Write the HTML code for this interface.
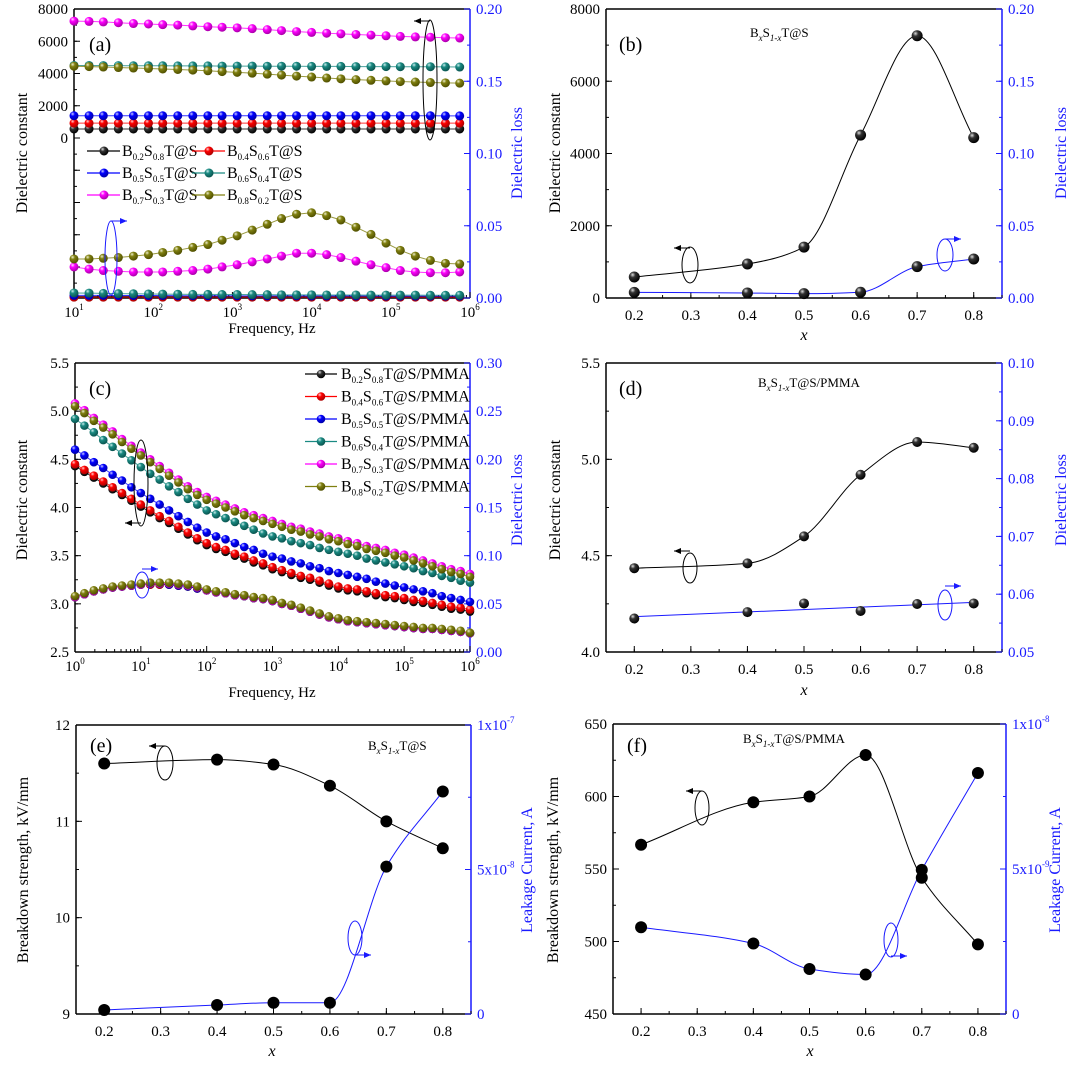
<!DOCTYPE html>
<html><head><meta charset="utf-8">
<style>
html,body{margin:0;padding:0;background:#fff;}
svg{display:block;font-family:"Liberation Serif",serif;}
text{font-family:"Liberation Serif","Times New Roman",serif;}
</style></head>
<body>
<svg id="fig" width="1080" height="1068" viewBox="0 0 1080 1068" xmlns="http://www.w3.org/2000/svg">
<defs>
<radialGradient id="g-black" cx="35%" cy="30%" r="70%"><stop offset="0" stop-color="#ddd"/><stop offset="0.35" stop-color="#333"/><stop offset="1" stop-color="#000"/></radialGradient>
<radialGradient id="g-red" cx="35%" cy="30%" r="70%"><stop offset="0" stop-color="#fcc"/><stop offset="0.35" stop-color="#f00"/><stop offset="1" stop-color="#a00"/></radialGradient>
<radialGradient id="g-blue" cx="35%" cy="30%" r="70%"><stop offset="0" stop-color="#ccf"/><stop offset="0.35" stop-color="#00f"/><stop offset="1" stop-color="#00a"/></radialGradient>
<radialGradient id="g-teal" cx="35%" cy="30%" r="70%"><stop offset="0" stop-color="#cee"/><stop offset="0.35" stop-color="#1a8a82"/><stop offset="1" stop-color="#0a5550"/></radialGradient>
<radialGradient id="g-mag" cx="35%" cy="30%" r="70%"><stop offset="0" stop-color="#fdf"/><stop offset="0.35" stop-color="#f0f"/><stop offset="1" stop-color="#a0a"/></radialGradient>
<radialGradient id="g-olive" cx="35%" cy="30%" r="70%"><stop offset="0" stop-color="#eec"/><stop offset="0.35" stop-color="#808010"/><stop offset="1" stop-color="#505000"/></radialGradient>
</defs>
</svg>
<script>
// ---------- data ----------
const logFA = [1.00,1.19,1.37,1.56,1.75,1.94,2.12,2.31,2.50,2.69,2.87,3.06,3.25,3.44,3.62,3.81,4.00,4.19,4.37,4.56,4.75,4.94,5.12,5.31,5.50,5.69,5.87];
const epsA02 = [560,560,560,560,560,560,560,560,560,560,560,560,560,560,560,560,560,560,560,560,560,560,560,560,560,560,560];
const epsA04 = [920,920,920,920,920,920,920,920,920,920,920,920,920,920,920,920,920,920,920,920,920,920,920,920,920,920,920];
const epsA05 = [1380,1380,1380,1380,1380,1380,1380,1380,1380,1380,1380,1380,1380,1380,1380,1380,1380,1380,1380,1380,1380,1380,1380,1380,1380,1370,1370];
const epsA06 = [4500,4500,4490,4490,4480,4480,4480,4470,4470,4470,4460,4460,4460,4450,4450,4450,4440,4440,4440,4430,4430,4430,4420,4420,4420,4410,4400];
const epsA07 = [7250,7230,7200,7150,7100,7070,7030,7000,6950,6900,6870,6830,6780,6720,6660,6600,6550,6500,6460,6420,6380,6340,6300,6270,6250,6220,6200];
const epsA08 = [4450,4430,4400,4370,4340,4310,4280,4250,4210,4170,4120,4070,4020,3960,3900,3840,3780,3720,3670,3620,3580,3540,3500,3470,3440,3420,3400];
const lossA02 = [0.001,0.001,0.001,0.001,0.001,0.001,0.001,0.001,0.001,0.001,0.001,0.001,0.001,0.001,0.001,0.001,0.001,0.001,0.001,0.001,0.001,0.001,0.001,0.001,0.001,0.001,0.001];
const lossA04 = [0.0006,0.0006,0.0006,0.0006,0.0006,0.0006,0.0006,0.0006,0.0006,0.0006,0.0006,0.0006,0.0006,0.0006,0.0006,0.0006,0.0006,0.0006,0.0006,0.0006,0.0006,0.0006,0.0006,0.0006,0.0006,0.0006,0.0006];
const lossA05 = [0.0018,0.0018,0.0018,0.0017,0.0017,0.0017,0.0017,0.0016,0.0016,0.0016,0.0016,0.0015,0.0015,0.0015,0.0015,0.0015,0.0014,0.0014,0.0014,0.0014,0.0014,0.0013,0.0013,0.0013,0.0013,0.0013,0.0013];
const lossA06 = [0.0035,0.0034,0.0032,0.0030,0.0029,0.0028,0.0027,0.0026,0.0025,0.0025,0.0024,0.0024,0.0023,0.0023,0.0022,0.0022,0.0022,0.0021,0.0021,0.0021,0.0020,0.0020,0.0020,0.0020,0.0019,0.0019,0.0019];
const lossA07 = [0.0215,0.020,0.019,0.0185,0.018,0.018,0.018,0.0185,0.019,0.020,0.0215,0.023,0.025,0.027,0.029,0.031,0.031,0.030,0.028,0.0255,0.023,0.021,0.019,0.018,0.0175,0.0175,0.018];
const lossA08 = [0.027,0.027,0.0275,0.028,0.029,0.030,0.0315,0.033,0.035,0.037,0.040,0.043,0.047,0.051,0.055,0.058,0.059,0.057,0.054,0.049,0.044,0.038,0.033,0.029,0.026,0.024,0.0235];

const logFC = [0,0.143,0.286,0.429,0.571,0.714,0.857,1,1.143,1.286,1.429,1.571,1.714,1.857,2,2.143,2.286,2.429,2.571,2.714,2.857,3,3.143,3.286,3.429,3.571,3.714,3.857,4,4.143,4.286,4.429,4.571,4.714,4.857,5,5.143,5.286,5.429,5.571,5.714,5.857,6];
const epsC02 = [4.43,4.37,4.31,4.25,4.19,4.13,4.07,4.01,3.95,3.89,3.84,3.78,3.72,3.66,3.61,3.57,3.54,3.50,3.47,3.43,3.40,3.36,3.33,3.30,3.27,3.25,3.22,3.19,3.16,3.14,3.13,3.11,3.09,3.07,3.06,3.04,3.02,3.01,2.99,2.97,2.95,2.94,2.92];
const epsC04 = [4.45,4.39,4.33,4.27,4.21,4.15,4.09,4.03,3.97,3.91,3.86,3.80,3.74,3.68,3.63,3.59,3.56,3.52,3.49,3.45,3.42,3.38,3.35,3.32,3.29,3.27,3.24,3.21,3.18,3.16,3.15,3.13,3.11,3.09,3.08,3.06,3.04,3.03,3.01,2.99,2.97,2.96,2.94];
const epsC05 = [4.60,4.54,4.47,4.41,4.34,4.28,4.21,4.15,4.09,4.03,3.97,3.91,3.85,3.79,3.74,3.70,3.67,3.63,3.59,3.56,3.52,3.49,3.47,3.44,3.42,3.39,3.37,3.34,3.32,3.30,3.28,3.26,3.23,3.21,3.19,3.17,3.15,3.13,3.11,3.08,3.06,3.04,3.02];
const epsC06 = [4.92,4.85,4.78,4.70,4.63,4.56,4.49,4.42,4.35,4.29,4.22,4.16,4.09,4.03,3.97,3.93,3.89,3.85,3.81,3.77,3.73,3.70,3.68,3.65,3.63,3.61,3.58,3.56,3.54,3.52,3.50,3.47,3.45,3.43,3.41,3.39,3.37,3.34,3.32,3.29,3.27,3.24,3.22];
const epsC07 = [5.08,5.01,4.93,4.86,4.79,4.71,4.64,4.57,4.50,4.43,4.36,4.29,4.22,4.16,4.11,4.07,4.03,3.99,3.95,3.92,3.89,3.86,3.83,3.80,3.78,3.75,3.73,3.70,3.68,3.65,3.63,3.60,3.58,3.56,3.53,3.51,3.48,3.45,3.42,3.39,3.36,3.34,3.31];
const epsC08 = [5.05,4.98,4.90,4.83,4.76,4.68,4.61,4.54,4.47,4.40,4.33,4.26,4.19,4.13,4.08,4.04,4.00,3.96,3.92,3.89,3.86,3.83,3.80,3.77,3.75,3.72,3.70,3.67,3.65,3.62,3.60,3.57,3.55,3.53,3.50,3.48,3.45,3.42,3.39,3.36,3.33,3.31,3.28];
const lossC02 = [0.057,0.060,0.063,0.065,0.067,0.068,0.069,0.070,0.070,0.070,0.070,0.069,0.068,0.066,0.064,0.062,0.061,0.059,0.058,0.056,0.055,0.053,0.050,0.048,0.045,0.042,0.039,0.036,0.034,0.032,0.031,0.030,0.029,0.028,0.027,0.026,0.025,0.024,0.024,0.023,0.022,0.021,0.0195];
const lossC04 = [0.057,0.060,0.063,0.065,0.067,0.068,0.069,0.070,0.070,0.070,0.070,0.069,0.068,0.066,0.064,0.062,0.061,0.059,0.058,0.056,0.055,0.053,0.050,0.048,0.045,0.042,0.039,0.036,0.034,0.032,0.031,0.030,0.029,0.028,0.027,0.026,0.025,0.024,0.024,0.023,0.022,0.021,0.0195];
const lossC05 = [0.057,0.060,0.063,0.065,0.067,0.068,0.069,0.070,0.071,0.071,0.070,0.069,0.068,0.066,0.064,0.062,0.061,0.059,0.058,0.056,0.055,0.053,0.050,0.048,0.045,0.042,0.039,0.036,0.034,0.032,0.031,0.030,0.029,0.028,0.027,0.026,0.025,0.024,0.024,0.023,0.022,0.021,0.0195];
const lossC06 = [0.057,0.060,0.063,0.065,0.067,0.068,0.069,0.070,0.071,0.071,0.071,0.070,0.069,0.067,0.064,0.062,0.061,0.059,0.058,0.056,0.055,0.053,0.050,0.048,0.045,0.042,0.039,0.036,0.034,0.032,0.031,0.030,0.029,0.028,0.027,0.026,0.025,0.024,0.024,0.023,0.022,0.021,0.0195];
const lossC07 = [0.057,0.060,0.063,0.065,0.067,0.068,0.069,0.070,0.071,0.071,0.071,0.070,0.069,0.067,0.064,0.062,0.061,0.059,0.058,0.056,0.055,0.053,0.050,0.048,0.045,0.042,0.039,0.036,0.034,0.032,0.031,0.030,0.029,0.028,0.027,0.026,0.025,0.024,0.024,0.023,0.022,0.021,0.0195];
const lossC08 = [0.058,0.061,0.064,0.066,0.068,0.069,0.070,0.071,0.072,0.072,0.072,0.071,0.070,0.068,0.065,0.063,0.062,0.060,0.059,0.057,0.056,0.054,0.051,0.049,0.046,0.043,0.040,0.037,0.035,0.033,0.032,0.031,0.030,0.029,0.028,0.027,0.026,0.025,0.025,0.024,0.023,0.022,0.020];

const xComp = [0.2,0.4,0.5,0.6,0.7,0.8];
const epsB = [581,940,1410,4510,7260,4440];
const lossB = [0.0039,0.0035,0.003,0.004,0.0217,0.027];
const epsD = [4.435,4.46,4.60,4.92,5.09,5.06];
const lossD = [0.0558,0.0569,0.0584,0.0571,0.0583,0.0584];
const bdsE = [11.60,11.64,11.59,11.37,11.00,10.72];
const leakE = [1.4e-9,3.1e-9,3.9e-9,3.9e-9,5.1e-8,7.7e-8];
const bdsF = [566.7,596,600,628.6,544,498];
const leakF = [2.99e-9,2.43e-9,1.55e-9,1.36e-9,4.97e-9,8.31e-9];

const seriesNames = ['B0.2S0.8','B0.4S0.6','B0.5S0.5','B0.6S0.4','B0.7S0.3','B0.8S0.2'];
const subA = [['0.2','0.8'],['0.4','0.6'],['0.5','0.5'],['0.6','0.4'],['0.7','0.3'],['0.8','0.2']];

// ---------- helpers ----------
const NS = 'http://www.w3.org/2000/svg';
const svg = document.getElementById('fig');
const BLUE = '#1a1aff';
const FONT = '"Liberation Serif", "Times New Roman", serif';
const colors = ['#000000','#ff0000','#0000ff','#1a8a82','#ff00ff','#808010'];
const grads = ['g-black','g-red','g-blue','g-teal','g-mag','g-olive'];
function mk(tag, attrs, parent){
  const e = document.createElementNS(NS, tag);
  for (const k in attrs) e.setAttribute(k, attrs[k]);
  (parent || svg).appendChild(e);
  return e;
}
function lin(d0,d1,p0,p1){ return v => p0 + (v-d0)/(d1-d0)*(p1-p0); }
// monotone cubic (Fritsch-Carlson) in pixel space (x increasing)
function smoothPath(pts){
  const n = pts.length;
  const dx=[], dy=[], m=[];
  for (let i=0;i<n-1;i++){ dx.push(pts[i+1][0]-pts[i][0]); dy.push(pts[i+1][1]-pts[i][1]); m.push(dy[i]/dx[i]); }
  const t = [m[0]];
  for (let i=1;i<n-1;i++){
    if (m[i-1]*m[i] <= 0) t.push(0);
    else { const w1=2*dx[i]+dx[i-1], w2=dx[i]+2*dx[i-1]; t.push((w1+w2)/(w1/m[i-1]+w2/m[i])); }
  }
  t.push(m[n-2]);
  let d = 'M' + pts[0][0] + ',' + pts[0][1];
  for (let i=0;i<n-1;i++){
    const h = dx[i]/3;
    d += ' C' + (pts[i][0]+h) + ',' + (pts[i][1]+t[i]*h) + ' ' + (pts[i+1][0]-h) + ',' + (pts[i+1][1]-t[i+1]*h) + ' ' + pts[i+1][0] + ',' + pts[i+1][1];
  }
  return d;
}
function addText(g, x, y, parts, opts){
  const t = mk('text', Object.assign({x:x, y:y, 'font-size':15, 'font-family':FONT}, opts||{}), g);
  parts.forEach(p => {
    const s = mk('tspan', {}, t);
    if (p.sub){ s.setAttribute('font-size', 9); s.setAttribute('dy', 4); }
    if (p.sup){ s.setAttribute('font-size', 9); s.setAttribute('dy', -7); }
    if (p.reset){ s.setAttribute('dy', p.reset); }
    if (p.it){ s.setAttribute('font-style','italic'); }
    s.textContent = p.t;
  });
  return t;
}

function frame(p){
  const g = mk('g', {});
  
  
  mk('line',{x1:p.L,y1:p.T,x2:p.R,y2:p.T,stroke:'#000','stroke-width':1.5},g);
  mk('line',{x1:p.L,y1:p.B,x2:p.R,y2:p.B,stroke:'#000','stroke-width':1.5},g);
  mk('line',{x1:p.L,y1:p.T,x2:p.L,y2:p.B,stroke:'#000','stroke-width':1.5},g);
  mk('line',{x1:p.R,y1:p.T,x2:p.R,y2:p.B,stroke:BLUE,'stroke-width':1.5},g);
  p.xMajor.forEach((v,i) => {
    const x = p.xs(v);
    mk('line',{x1:x,y1:p.B,x2:x,y2:p.B-6,stroke:'#000'},g);
    const lab = p.xLab[i];
    if (lab) addText(g, x, p.B+(p.xLabDy||20), lab, {'text-anchor':'middle'});
  });
  p.xMinor.forEach(v => { const x=p.xs(v); mk('line',{x1:x,y1:p.B,x2:x,y2:p.B-3,stroke:'#000'},g); });
  p.yLMajor.forEach((v,i) => {
    const y = p.yl(v);
    if (y < p.T-0.5 || y > p.B+0.5) return;
    mk('line',{x1:p.L,y1:y,x2:p.L+6,y2:y,stroke:'#000'},g);
    const lab = p.yLLab[i];
    if (lab) addText(g, p.L-6, y+5, [{t:lab}], {'text-anchor':'end'});
  });
  p.yLMinor.forEach(v => { const y=p.yl(v); if (y<p.T||y>p.B) return; mk('line',{x1:p.L,y1:y,x2:p.L+3,y2:y,stroke:'#000'},g); });
  p.yRMajor.forEach((v,i) => {
    const y = p.yr(v);
    mk('line',{x1:p.R,y1:y,x2:p.R-6,y2:y,stroke:BLUE},g);
    const lab = p.yRLab[i];
    if (lab) addText(g, p.R+6, y+5, lab, {'fill':BLUE});
  });
  p.yRMinor.forEach(v => { const y=p.yr(v); mk('line',{x1:p.R,y1:y,x2:p.R-3,y2:y,stroke:BLUE},g); });
  return g;
}
function logTicks(a,b){ const M=[],m=[]; for(let d=a;d<=b;d++){ M.push(d); if(d<b) for(let k=2;k<10;k++) m.push(d+Math.log10(k)); } return {M,m}; }
function rng(a,b,s){ const r=[]; for(let v=a; v<=b+s*1e-6; v+=s) r.push(+v.toFixed(10)); return r; }
function ellipseArrow(g, cx, cy, rx, ry, ay, dir, color, name){
  const e = mk('ellipse',{cx:cx,cy:cy,rx:rx,ry:ry,fill:'none',stroke:color,'stroke-width':1},g);
  
  
  const x2 = cx + dir*16;
  mk('line',{x1:cx,y1:ay,x2:x2,y2:ay,stroke:color,'stroke-width':1},g);
  mk('polygon',{points:x2+','+ay+' '+(x2-dir*7)+','+(ay-3)+' '+(x2-dir*7)+','+(ay+3),fill:color},g);
}
function ballSeries(g, xs, ys, xv, yv, color, grad, r, name){
  const pts = xv.map((x,i)=>[xs(x), ys(yv[i])]);
  const path = mk('path',{d:'M'+pts.map(p=>p.join(',')).join(' L'), fill:'none', stroke:color, 'stroke-width':1, opacity:0.8}, g);
  
  
  pts.forEach(p => {
    const c = mk('circle',{cx:p[0],cy:p[1],r:r,fill:'url(#'+grad+')'},g);
    
    
  });
}

// ---------- panel A ----------
(function(){
  const L=74,R=470,T=9,B=298;
  const xs=lin(1,6,L,R), yl=lin(0,8000,138,T), yr=lin(0,0.2,B,T);
  const lt = logTicks(1,6);
  frame({name:'panel-a',L,R,T,B,xs,yl,yr,xLabDy:19,
    xMajor:lt.M, xMinor:lt.m, xLab:lt.M.map(d=>[{t:'10'},{sup:1,t:String(d)}]),
    yLMajor:rng(-10000,8000,2000), yLLab:rng(-10000,8000,2000).map(v=>v>=0?String(v):''),
    yLMinor:rng(-11000,8000,1000),
    yRMajor:rng(0,0.2,0.05), yRLab:['0.00','0.05','0.10','0.15','0.20'].map(s=>[{t:s}]), yRMinor:rng(0,0.2,0.025)});
  const g = mk('g',{});
  
  
  const eps=[epsA02,epsA04,epsA05,epsA06,epsA07,epsA08], loss=[lossA02,lossA04,lossA05,lossA06,lossA07,lossA08];
  for(let s=0;s<6;s++){
    ballSeries(g, xs, yl, logFA, eps[s], colors[s], grads[s], 4.5, 'a-eps-'+seriesNames[s]);
    ballSeries(g, xs, yr, logFA, loss[s], colors[s], grads[s], 4.5, 'a-loss-'+seriesNames[s]);
  }
  const lg = mk('g',{});
  
  
  for(let s=0;s<6;s++){
    const col=s%2, row=Math.floor(s/2);
    const x0 = col? 192:87, y = 151+row*22;
    mk('line',{x1:x0,y1:y,x2:x0+33,y2:y,stroke:colors[s],'stroke-width':1.2},lg);
    const c = mk('circle',{cx:x0+17,cy:y,r:4.5,fill:'url(#'+grads[s]+')'},lg);
    
    
    const t = addText(lg, x0+35, y+5, [{t:'B'},{sub:1,t:subA[s][0]},{reset:-4,t:'S'},{sub:1,t:subA[s][1]},{reset:-4,t:'T@S'}], {'font-size':16});
    
    
  }
  addText(g, 89, 51, [{t:'(a)'}], {'font-size':20});
  ellipseArrow(g, 430, 80, 7, 60, 21, -1, '#000', 'a-eps');
  ellipseArrow(g, 111, 258, 6, 37, 221, 1, BLUE, 'a-loss');
  const yt = addText(g, 0, 0, [{t:'Dielectric constant'}], {'font-size':16,'text-anchor':'middle',transform:'translate(27,153) rotate(-90)'});
   
  const yr2 = addText(g, 0, 0, [{t:'Dielectric loss'}], {'font-size':16,'text-anchor':'middle',fill:BLUE,transform:'translate(522,153) rotate(-90)'});
   
  const xt = addText(g, 272, 333, [{t:'Frequency, Hz'}], {'font-size':15,'text-anchor':'middle'});
   
})();

// ---------- panel C ----------
(function(){
  const L=75,R=470,T=363,B=652;
  const xs=lin(0,6,L,R), yl=lin(2.5,5.5,B,T), yr=lin(0,0.3,B,T);
  const lt = logTicks(0,6);
  frame({name:'panel-c',L,R,T,B,xs,yl,yr,xLabDy:19,
    xMajor:lt.M, xMinor:lt.m, xLab:lt.M.map(d=>[{t:'10'},{sup:1,t:String(d)}]),
    yLMajor:rng(2.5,5.5,0.5), yLLab:['2.5','3.0','3.5','4.0','4.5','5.0','5.5'], yLMinor:rng(2.5,5.5,0.25),
    yRMajor:rng(0,0.3,0.05), yRLab:['0.00','0.05','0.10','0.15','0.20','0.25','0.30'].map(s=>[{t:s}]), yRMinor:rng(0,0.3,0.025)});
  const g = mk('g',{});
  
  
  const eps=[epsC02,epsC04,epsC05,epsC06,epsC07,epsC08], loss=[lossC02,lossC04,lossC05,lossC06,lossC07,lossC08];
  for(let s=0;s<6;s++){
    ballSeries(g, xs, yl, logFC, eps[s], colors[s], grads[s], 4.3, 'c-eps-'+seriesNames[s]);
    ballSeries(g, xs, yr, logFC, loss[s], colors[s], grads[s], 4.3, 'c-loss-'+seriesNames[s]);
  }
  const lg = mk('g',{});
  
  
  for(let s=0;s<6;s++){
    const y = 374 + s*22.5, x0=305;
    mk('line',{x1:x0,y1:y,x2:x0+32,y2:y,stroke:colors[s],'stroke-width':1.2},lg);
    const c = mk('circle',{cx:x0+16,cy:y,r:4.3,fill:'url(#'+grads[s]+')'},lg);
    
    
    const t = addText(lg, x0+36, y+5, [{t:'B'},{sub:1,t:subA[s][0]},{reset:-4,t:'S'},{sub:1,t:subA[s][1]},{reset:-4,t:'T@S/PMMA'}], {'font-size':16});
    
    
  }
  addText(g, 89, 395, [{t:'(c)'}], {'font-size':20});
  ellipseArrow(g, 141, 483, 7, 43, 523, -1, '#000', 'c-eps');
  ellipseArrow(g, 142, 585, 7, 13, 569, 1, BLUE, 'c-loss');
  const yt = addText(g, 0, 0, [{t:'Dielectric constant'}], {'font-size':16,'text-anchor':'middle',transform:'translate(27,500) rotate(-90)'});
   
  const yr2 = addText(g, 0, 0, [{t:'Dielectric loss'}], {'font-size':16,'text-anchor':'middle',fill:BLUE,transform:'translate(522,500) rotate(-90)'});
   
  const xt = addText(g, 272, 697, [{t:'Frequency, Hz'}], {'font-size':15,'text-anchor':'middle'});
   
})();

// ---------- composition panels ----------
const compX = rng(0.2,0.8,0.1);
const compLab = compX.map(v=>[{t:v.toFixed(1)}]);
const compMinor = rng(0.15,0.85,0.05);
function compPanel(cfg){
  const xs=lin(0.15,0.85,cfg.L,cfg.R), yl=lin(cfg.yl0,cfg.yl1,cfg.B,cfg.T), yr=lin(cfg.yr0,cfg.yr1,cfg.B,cfg.T);
  frame({name:cfg.name,L:cfg.L,R:cfg.R,T:cfg.T,B:cfg.B,xs,yl,yr,xLabDy:22,
    xMajor:compX, xMinor:compMinor, xLab:compLab,
    yLMajor:cfg.yLMajor, yLLab:cfg.yLLab, yLMinor:cfg.yLMinor,
    yRMajor:cfg.yRMajor, yRLab:cfg.yRLab, yRMinor:cfg.yRMinor});
  const g = mk('g',{});
  
  
  const pl = xComp.map((x,i)=>[xs(x), yl(cfg.left[i])]);
  const p1 = mk('path',{d:smoothPath(pl),fill:'none',stroke:'#000','stroke-width':1},g);
  
  
  let pr;
  if (cfg.linearRight){
    const n=xComp.length, mx=xComp.reduce((a,b)=>a+b)/n, my=cfg.right.reduce((a,b)=>a+b)/n;
    let sxy=0,sxx=0; xComp.forEach((x,i)=>{sxy+=(x-mx)*(cfg.right[i]-my); sxx+=(x-mx)*(x-mx);});
    const k=sxy/sxx; const f=x=>my+k*(x-mx);
    pr = mk('path',{d:'M'+xs(0.2)+','+yr(f(0.2))+' L'+xs(0.8)+','+yr(f(0.8)),fill:'none',stroke:BLUE,'stroke-width':1},g);
  } else {
    const pts = xComp.map((x,i)=>[xs(x), yr(cfg.right[i])]);
    pr = mk('path',{d:smoothPath(pts),fill:'none',stroke:BLUE,'stroke-width':1},g);
  }
  
  
  xComp.forEach((x,i)=>{
    const c = mk('circle',{cx:xs(x),cy:yl(cfg.left[i]),r:cfg.r,fill:cfg.flat?'#000':'url(#g-black)'},g);
    
    
    const c2 = mk('circle',{cx:xs(x),cy:yr(cfg.right[i]),r:cfg.r,fill:cfg.flat?'#000':'url(#g-black)'},g);
    
    
  });
  cfg.extra(g);
}
function yTitles(g, xl, xr, cy, left, right, xc, xy){
  const a = addText(g,0,0,[{t:left}],{'font-size':16,'text-anchor':'middle',transform:'translate('+xl+','+cy+') rotate(-90)'});
   
  const b = addText(g,0,0,[{t:right}],{'font-size':16,'text-anchor':'middle',fill:BLUE,transform:'translate('+xr+','+cy+') rotate(-90)'});
   
  const c = addText(g,xc,xy,[{t:'x',it:1}],{'font-size':16,'text-anchor':'middle'});
   
}

compPanel({name:'panel-b',L:606,R:1002,T:9,B:298,yl0:0,yl1:8000,yr0:0,yr1:0.2,r:5.5,
  left:epsB,right:lossB,
  yLMajor:rng(0,8000,2000),yLLab:['0','2000','4000','6000','8000'],yLMinor:rng(0,8000,1000),
  yRMajor:rng(0,0.2,0.05),yRLab:['0.00','0.05','0.10','0.15','0.20'].map(s=>[{t:s}]),yRMinor:rng(0,0.2,0.025),
  extra:g=>{
    addText(g,619,51,[{t:'(b)'}],{'font-size':20});
    addText(g,750,37,[{t:'B'},{sub:1,it:1,t:'x'},{reset:-4,t:'S'},{sub:1,it:1,t:'1-x'},{reset:-4,t:'T@S'}],{'font-size':13});
    ellipseArrow(g,690,265,8,18,248,-1,'#000','b-eps');
    ellipseArrow(g,945,255,8,16,239,1,BLUE,'b-loss');
    yTitles(g,560,1066,153,'Dielectric constant','Dielectric loss',804,340);
  }});
compPanel({name:'panel-d',L:606,R:1002,T:363,B:652,yl0:4.0,yl1:5.5,yr0:0.05,yr1:0.10,r:5,
  left:epsD,right:lossD,linearRight:true,
  yLMajor:rng(4,5.5,0.5),yLLab:['4.0','4.5','5.0','5.5'],yLMinor:rng(4,5.5,0.25),
  yRMajor:rng(0.05,0.10,0.01),yRLab:['0.05','0.06','0.07','0.08','0.09','0.10'].map(s=>[{t:s}]),yRMinor:rng(0.05,0.10,0.005),
  extra:g=>{
    addText(g,619,395,[{t:'(d)'}],{'font-size':20});
    addText(g,758,387,[{t:'B'},{sub:1,it:1,t:'x'},{reset:-4,t:'S'},{sub:1,it:1,t:'1-x'},{reset:-4,t:'T@S/PMMA'}],{'font-size':13});
    ellipseArrow(g,690,568,7,15,551,-1,'#000','d-eps');
    ellipseArrow(g,945,605,7,15,586,1,BLUE,'d-loss');
    yTitles(g,560,1066,500,'Dielectric constant','Dielectric loss',804,695);
  }});
compPanel({name:'panel-e',L:76,R:471,T:725,B:1014,yl0:9,yl1:12,yr0:0,yr1:1e-7,r:6,flat:true,
  left:bdsE,right:leakE,
  yLMajor:rng(9,12,1),yLLab:['9','10','11','12'],yLMinor:rng(9,12,0.5),
  yRMajor:[0,5e-8,1e-7],yRLab:[[{t:'0'}],[{t:'5x10'},{sup:1,t:'-8'}],[{t:'1x10'},{sup:1,t:'-7'}]],yRMinor:rng(0,1e-7,2.5e-8),
  extra:g=>{
    addText(g,90,752,[{t:'(e)'}],{'font-size':20});
    addText(g,368,750,[{t:'B'},{sub:1,it:1,t:'x'},{reset:-4,t:'S'},{sub:1,it:1,t:'1-x'},{reset:-4,t:'T@S'}],{'font-size':13});
    ellipseArrow(g,165,763,8,17,746,-1,'#000','e-bds');
    ellipseArrow(g,355,938,7,17,955,1,BLUE,'e-leak');
    yTitles(g,28,532,870,'Breakdown strength, kV/mm','Leakage Current, A',272,1056);
  }});
compPanel({name:'panel-f',L:613,R:1006,T:724,B:1014,yl0:450,yl1:650,yr0:0,yr1:1e-8,r:6,flat:true,
  left:bdsF,right:leakF,
  yLMajor:rng(450,650,50),yLLab:['450','500','550','600','650'],yLMinor:rng(450,650,25),
  yRMajor:[0,5e-9,1e-8],yRLab:[[{t:'0'}],[{t:'5x10'},{sup:1,t:'-9'}],[{t:'1x10'},{sup:1,t:'-8'}]],yRMinor:rng(0,1e-8,2.5e-9),
  extra:g=>{
    addText(g,627,752,[{t:'(f)'}],{'font-size':20});
    addText(g,743,743,[{t:'B'},{sub:1,it:1,t:'x'},{reset:-4,t:'S'},{sub:1,it:1,t:'1-x'},{reset:-4,t:'T@S/PMMA'}],{'font-size':13});
    ellipseArrow(g,702,808,7,17,791,-1,'#000','f-bds');
    ellipseArrow(g,891,940,7,17,956,1,BLUE,'f-leak');
    yTitles(g,558,1060,870,'Breakdown strength, kV/mm','Leakage Current, A',810,1056);
  }});
</script>
</body></html>
